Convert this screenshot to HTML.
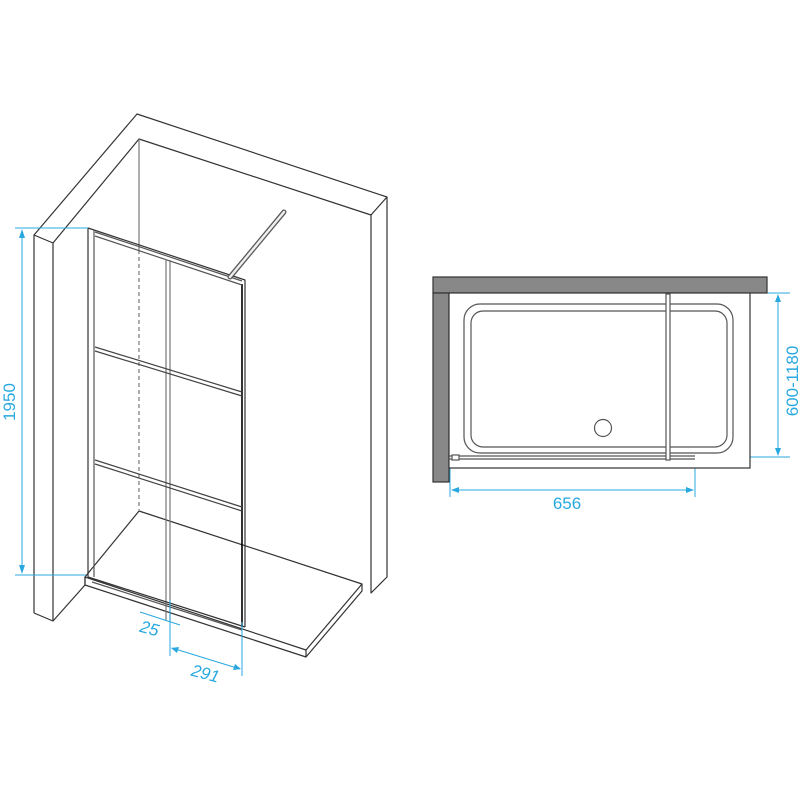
<!DOCTYPE html>
<html><head><meta charset="utf-8"><style>html,body{margin:0;padding:0;background:#fff}svg{display:block}</style></head>
<body>
<svg width="800" height="800" viewBox="0 0 800 800" xmlns="http://www.w3.org/2000/svg">
<g fill="none" stroke="#333" stroke-width="1.2" stroke-linejoin="round">
<polyline points="34,613 34,235 137,114 387,197 387,577 371,593 371,215"/>
<polyline points="34,235 53,243 139,139 371,215 387,197"/>
<polyline points="34,613 53,621 85,585"/>
<line x1="53" y1="243" x2="53" y2="621"/>
<line x1="139" y1="139" x2="139" y2="250" stroke="#777"/>
<line x1="139" y1="250" x2="139" y2="510" stroke="#777" stroke-dasharray="4,3"/>
<polyline points="85,577 139,511 362,584"/>
<polygon points="85,577 306,650 362,584 362,591 306,657 85,585"/>
<line x1="306" y1="650" x2="306" y2="657"/>
<line x1="85" y1="577" x2="85" y2="585"/>
<polyline points="88,228 245,280 245,627"/>
<line x1="88" y1="228" x2="88" y2="577"/>
<line x1="94" y1="230" x2="94" y2="577" stroke="#555"/>
<line x1="242" y1="284" x2="242" y2="627" stroke="#000" stroke-width="1.6"/>
<line x1="95" y1="232" x2="242" y2="281" stroke="#555"/>
<line x1="95" y1="236" x2="242" y2="285" stroke="#555"/>
<line x1="166" y1="259" x2="166" y2="620" stroke="#777"/>
<line x1="170" y1="260" x2="170" y2="621" stroke="#777"/>
<line x1="95" y1="347" x2="242" y2="392" stroke="#444"/>
<line x1="95" y1="351" x2="242" y2="396" stroke="#444"/>
<line x1="95" y1="460" x2="242" y2="507" stroke="#444"/>
<line x1="95" y1="464" x2="242" y2="511" stroke="#444"/>
<line x1="88" y1="577" x2="245" y2="627"/>
<line x1="92" y1="582" x2="242" y2="630" stroke="#555"/>
<line x1="230" y1="277" x2="284" y2="212" stroke="#555" stroke-width="5" stroke-linecap="round"/>
<line x1="230" y1="277" x2="284" y2="212" stroke="#eee" stroke-width="2.5" stroke-linecap="round"/>
</g>
<g stroke="#29a8e0" stroke-width="1" fill="none">
<line x1="15" y1="228" x2="88" y2="228"/>
<line x1="15" y1="575" x2="86" y2="575"/>
<line x1="22" y1="231" x2="22" y2="572"/>
<line x1="140" y1="612" x2="180" y2="625"/>
<line x1="170" y1="600" x2="170" y2="656"/>
<line x1="242" y1="622" x2="242" y2="676"/>
<line x1="172" y1="648" x2="240" y2="669"/>
<line x1="450" y1="460" x2="450" y2="497"/>
<line x1="695" y1="458" x2="695" y2="497"/>
<line x1="452" y1="490" x2="693" y2="490"/>
<line x1="750" y1="293" x2="790" y2="293"/>
<line x1="696" y1="457" x2="790" y2="457"/>
<line x1="778" y1="296" x2="778" y2="454"/>
</g>
<g fill="#29a8e0">
<polygon points="22,229 19,238 25,238"/><polygon points="22,574 19,565 25,565"/>
<polygon points="171,648 179,647 177,653"/><polygon points="241,669 233,670 235,664"/>
<polygon points="451,490 459,487 459,493"/><polygon points="694,490 686,487 686,493"/>
<polygon points="778,294 775,302 781,302"/><polygon points="778,456 775,448 781,448"/>
</g>
<g font-family="Liberation Sans, sans-serif" font-size="17" fill="#29a8e0">
<text transform="translate(15,402) rotate(-90)" text-anchor="middle">1950</text>
<text transform="translate(148,634) rotate(15)" text-anchor="middle" font-style="italic">25</text>
<text transform="translate(204,679) rotate(15)" text-anchor="middle" font-style="italic">291</text>
<text x="567" y="509" text-anchor="middle">656</text>
<text transform="translate(798,381) rotate(-90)" text-anchor="middle">600-1180</text>
</g>
<g stroke="#333" stroke-width="1.2">
<rect x="433" y="277" width="334" height="16" fill="#888"/>
<rect x="433" y="293" width="16" height="189" fill="#888"/>
<rect x="449" y="293" width="301" height="175" fill="#fff"/>
<rect x="464" y="304" width="269" height="149" rx="16" fill="none" stroke="#555"/>
<rect x="471" y="311" width="256" height="136" rx="12" fill="none" stroke="#555"/>
<circle cx="603" cy="428" r="8.5" fill="none" stroke="#555"/>
<line x1="449" y1="456" x2="695" y2="456" stroke="#555"/>
<line x1="449" y1="459" x2="695" y2="459" stroke="#555"/>
<rect x="666" y="294" width="4" height="166" fill="#fff" stroke="#555"/>
<rect x="452" y="455" width="7" height="5" fill="#fff" stroke="#555"/>
</g>
</svg>
</body></html>
